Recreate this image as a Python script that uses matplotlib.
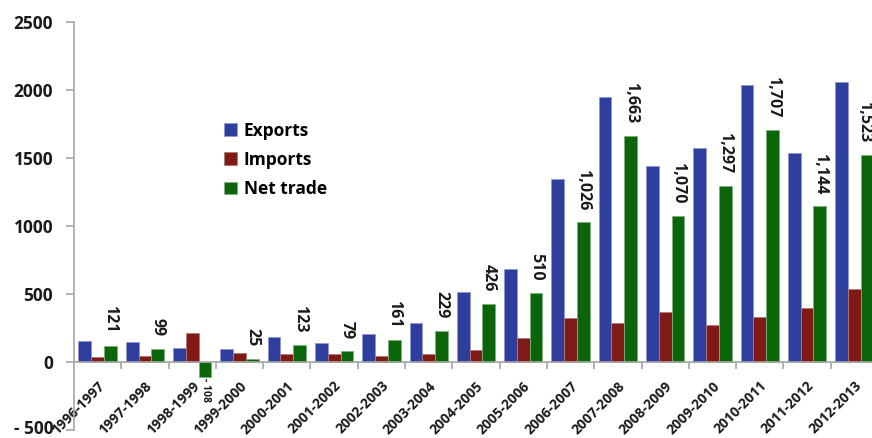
import numpy as np
import matplotlib
matplotlib.use("Agg")
import matplotlib.pyplot as plt
import matplotlib.transforms as mtransforms

plt.rcParams['font.family'] = ['Open Sans', 'DejaVu Sans']
plt.rcParams['font.weight'] = 'bold'

years = ['1996-1997', '1997-1998', '1998-1999', '1999-2000', '2000-2001',
         '2001-2002', '2002-2003', '2003-2004', '2004-2005', '2005-2006',
         '2006-2007', '2007-2008', '2008-2009', '2009-2010', '2010-2011',
         '2011-2012', '2012-2013']
exports = [157, 144, 105, 92, 185, 140, 203, 288, 517, 683, 1348, 1950, 1438, 1570, 2037, 1540, 2062]
imports = [36, 45, 213, 67, 62, 61, 42, 59, 91, 173, 322, 287, 368, 273, 330, 396, 539]
net_trade = [121, 99, -108, 25, 123, 79, 161, 229, 426, 510, 1026, 1663, 1070, 1297, 1707, 1144, 1523]

c_exp = '#2e3e9c'
c_imp = '#7f1a16'
c_net = '#0b660b'

fig = plt.figure(figsize=(8.72, 4.38), dpi=100)
ax = fig.add_axes([74/872, 1-430/438, 804/872, 408/438])

x = np.arange(len(years))
w = 0.27
ax.bar(x - w, exports, w, color=c_exp, edgecolor='#8e98d4', linewidth=0.6, label='Exports')
ax.bar(x, imports, w, color=c_imp, edgecolor='#b07a78', linewidth=0.6, label='Imports')
ax.bar(x + w, net_trade, w, color=c_net, edgecolor='#7ab07a', linewidth=0.6, label='Net trade')

# value labels on net trade
for xi, v in zip(x, net_trade):
    dx = -2 if xi == len(years) - 1 else 0   # keep last label inside the figure
    if v >= 0:
        ax.annotate(f'{v:,}', (xi + w, v), xytext=(dx, 9), textcoords='offset points',
                    rotation=270, ha='center', va='bottom', fontsize=11.5,
                    fontweight='bold', color='#1a1a1a')
    else:
        ax.annotate(f'- {abs(v)}', (xi + w, v), xytext=(0, -1), textcoords='offset points',
                    rotation=270, ha='center', va='top', fontsize=7.5,
                    fontweight='bold', color='#1a1a1a')

ax.set_xlim(-0.5, len(years) - 0.5)
ax.set_ylim(-500, 2500)
ax.set_yticks(range(-500, 2501, 500))
ax.set_yticklabels(['- 500' if t < 0 else str(t) for t in range(-500, 2501, 500)])

for s in ['top', 'right']:
    ax.spines[s].set_visible(False)
ax.spines['left'].set_color('#a6a6a6')
ax.spines['bottom'].set_color('#a6a6a6')
ax.spines['bottom'].set_position(('data', 0))
ax.spines['left'].set_linewidth(1.2)
ax.spines['bottom'].set_linewidth(1.2)

ax.tick_params(axis='y', length=6, color='#a6a6a6', width=1.2, pad=9,
               labelsize=12.5, labelcolor='#1a1a1a')
ax.set_xticks(x)
ax.set_xticklabels(years, rotation=45, ha='right', rotation_mode='anchor',
                   fontsize=10, fontweight='bold', color='#1a1a1a')
ax.tick_params(axis='x', which='major', length=0, pad=12)
ax.set_xticks(x[:-1] + 0.5, minor=True)
ax.tick_params(axis='x', which='minor', length=5, color='#a6a6a6', width=1.2, direction='out')
for lbl in ax.get_yticklabels():
    lbl.set_fontweight('bold')

# nudge the bottom tick label up a little so it stays inside the figure
lowest = ax.get_yticklabels()[0]
lowest.set_transform(lowest.get_transform() +
                     mtransforms.ScaledTranslation(0, 3/100, fig.dpi_scale_trans))

ax.legend(loc='upper left', bbox_to_anchor=(134/804, 1 - 84/408), frameon=False,
          handlelength=0.75, handleheight=0.75, handletextpad=0.4,
          labelspacing=0.65, prop={'weight': 'bold', 'size': 12.5})

fig.savefig('out.png', dpi=100)
